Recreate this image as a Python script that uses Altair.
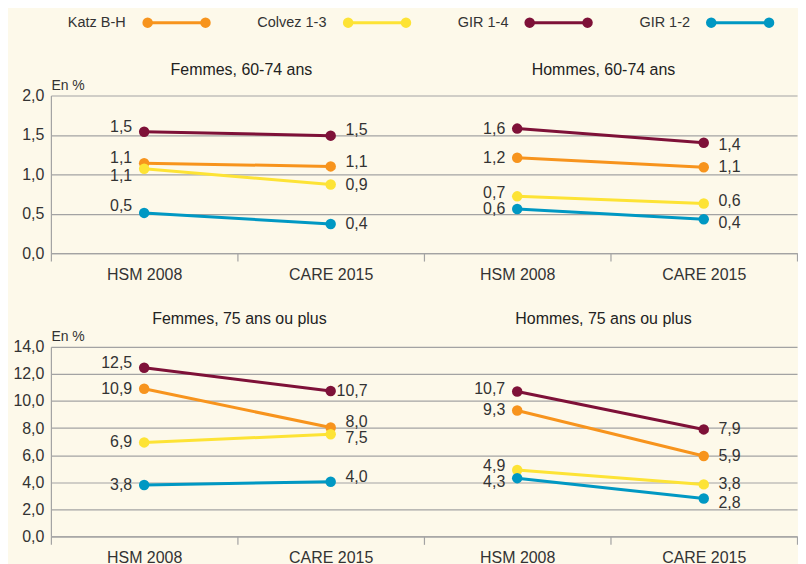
import altair as alt
import pandas as pd

# ---------------- data ----------------
series = ["Katz B-H", "Colvez 1-3", "GIR 1-4", "GIR 1-2"]
colors = ["#F7941D", "#FDE335", "#7E1138", "#0098C3"]
periods = ["HSM 2008", "CARE 2015"]
panels = ["Femmes", "Hommes"]

# values in % : [HSM 2008, CARE 2015]
femmes_60_74 = {"Katz B-H": [1.14, 1.10], "Colvez 1-3": [1.07, 0.87],
                "GIR 1-4": [1.54, 1.49], "GIR 1-2": [0.51, 0.37]}
hommes_60_74 = {"Katz B-H": [1.21, 1.09], "Colvez 1-3": [0.72, 0.63],
                "GIR 1-4": [1.58, 1.40], "GIR 1-2": [0.56, 0.43]}
femmes_75 = {"Katz B-H": [10.9, 8.04], "Colvez 1-3": [6.94, 7.54],
             "GIR 1-4": [12.46, 10.74], "GIR 1-2": [3.8, 4.04]}
hommes_75 = {"Katz B-H": [9.3, 5.94], "Colvez 1-3": [4.9, 3.84],
             "GIR 1-4": [10.7, 7.9], "GIR 1-2": [4.3, 2.8]}

titles_60_74 = ["Femmes, 60-74 ans", "Hommes, 60-74 ans"]
titles_75 = ["Femmes, 75 ans ou plus", "Hommes, 75 ans ou plus"]
ticks_60_74 = [0, 0.5, 1.0, 1.5, 2.0]
ticks_75 = [0, 2, 4, 6, 8, 10, 12, 14]
y_title = "En %"

# ---------------- style ----------------
FONT = "Liberation Sans, Arial, sans-serif"
BG = "#FDF9EA"
GRID = "#A3A3A3"
TXT = "#333333"
FS = 16

# label vertical nudges (px) by (panel, series, period)
NUDGE_60_74 = {
    ("Femmes", "Katz B-H", "HSM 2008"): -5, ("Femmes", "Colvez 1-3", "HSM 2008"): 7,
    ("Femmes", "GIR 1-4", "HSM 2008"): -5, ("Femmes", "GIR 1-2", "HSM 2008"): -7,
    ("Femmes", "Katz B-H", "CARE 2015"): -4, ("Femmes", "GIR 1-4", "CARE 2015"): -6,
    ("Hommes", "Colvez 1-3", "HSM 2008"): -3, ("Hommes", "GIR 1-4", "CARE 2015"): 2,
    ("Hommes", "GIR 1-2", "CARE 2015"): 4, ("Hommes", "Colvez 1-3", "CARE 2015"): -2,
}
NUDGE_75 = {
    ("Femmes", "GIR 1-4", "HSM 2008"): -5, ("Femmes", "Katz B-H", "CARE 2015"): -6,
    ("Femmes", "Colvez 1-3", "CARE 2015"): 4, ("Femmes", "GIR 1-2", "CARE 2015"): -5,
    ("Hommes", "GIR 1-4", "HSM 2008"): -3, ("Hommes", "Colvez 1-3", "HSM 2008"): -4,
    ("Hommes", "GIR 1-2", "HSM 2008"): 4, ("Hommes", "GIR 1-2", "CARE 2015"): 5,
}

keys = [f"{p}|{per}" for p in panels for per in periods]
LABEL_EXPR = "replace(format(datum.value, '.1f'), '.', ',')"


def make_row(data_by_panel, titles, ticks, nudges, height, title_y, title_dx):
    recs = []
    for p, d in zip(panels, data_by_panel):
        for s in series:
            for k, per in enumerate(periods):
                recs.append({"panel": p, "series": s, "period": per,
                             "key": f"{p}|{per}", "value": d[s][k],
                             "nudge": nudges.get((p, s, per), 0)})
    df = pd.DataFrame(recs)

    xenc = alt.X("key:N", sort=keys,
                 scale=alt.Scale(domain=keys, paddingInner=0, paddingOuter=0),
                 axis=alt.Axis(title=None, labelExpr="split(datum.label, '|')[1]",
                               labelAngle=0, tickBand="extent", ticks=True, tickSize=8,
                               labelPadding=5, labelFontSize=FS, grid=False))
    yenc = alt.Y("value:Q",
                 scale=alt.Scale(domain=[ticks[0], ticks[-1]], nice=False),
                 axis=alt.Axis(values=ticks, tickCount=50, grid=True, ticks=False,
                               labelPadding=7, labelOverlap=False, labelExpr=LABEL_EXPR,
                               labelFontSize=FS,
                               title=y_title, titleAngle=0, titleAlign="left",
                               titleBaseline="alphabetic", titleX=0, titleY=-6,
                               titleFontSize=14, titleFontWeight="normal"))
    color = alt.Color("series:N", scale=alt.Scale(domain=series, range=colors), legend=None)

    base = alt.Chart(df).encode(x=xenc, y=yenc, color=color)
    lines = base.mark_line(strokeWidth=3).encode(detail="panel:N")
    points = base.mark_circle(size=110, opacity=1)

    layers = [lines, points]
    for per, dx in [("HSM 2008", -12), ("CARE 2015", 37)]:
        sub = df[df.period == per]
        for n in sorted(set(sub.nudge)):
            layers.append(
                alt.Chart(df)
                .transform_filter(f"datum.period == '{per}' && datum.nudge == {n}")
                .transform_calculate(lab=LABEL_EXPR)
                .mark_text(align="right", baseline="middle", dx=dx, dy=int(n),
                           fontSize=FS, color=TXT)
                .encode(x="key:N", y="value:Q", text="lab:N")
            )

    tdf = pd.DataFrame({"key": [f"{p}|HSM 2008" for p in panels], "title": titles,
                        "panel": panels})
    for p, dx in zip(panels, title_dx):
        layers.append(
            alt.Chart(tdf)
            .transform_filter(f"datum.panel == '{p}'")
            .mark_text(baseline="middle", align="center", fontSize=FS, color="#222222", dx=dx)
            .encode(x=alt.X("key:N", bandPosition=1), y=alt.value(title_y), text="title:N")
        )
    return alt.layer(*layers).properties(width=748, height=height)


def legend_pair(s, c):
    d = pd.DataFrame({"series": [s]})
    b = alt.Chart(d)
    txt = b.mark_text(align="left", baseline="middle", fontSize=14.5, color=TXT).encode(
        x=alt.value(17), y=alt.value(6), text="series:N").properties(width=1, height=12)
    rule = b.mark_rule(color=c, strokeWidth=3).encode(x=alt.value(0), x2=alt.value(58), y=alt.value(6))
    p1 = b.mark_circle(color=c, size=110, opacity=1).encode(x=alt.value(0), y=alt.value(6))
    p2 = b.mark_circle(color=c, size=110, opacity=1).encode(x=alt.value(58), y=alt.value(6))
    sym = alt.layer(rule, p1, p2).properties(width=58, height=12)
    return alt.hconcat(txt, sym, spacing=15)


legend_row = alt.hconcat(*[legend_pair(s, c) for s, c in zip(series, colors)], spacing=29)

row1 = make_row([femmes_60_74, hommes_60_74], titles_60_74, ticks_60_74, NUDGE_60_74,
                158, -26, [4, -7])
row2 = make_row([femmes_75, hommes_75], titles_75, ticks_75, NUDGE_75,
                190, -28, [2, -7])

chart = (
    alt.vconcat(legend_row, alt.vconcat(row1, row2, spacing=29), spacing=32)
    .properties(padding={"left": 4, "top": 6, "right": 0, "bottom": 0}, background=BG)
    .configure(font=FONT)
    .configure_view(stroke=None)
    .configure_axis(labelColor=TXT, titleColor=TXT, gridColor=GRID, domainColor=GRID,
                    tickColor=GRID, labelFont=FONT, titleFont=FONT, gridWidth=1.2,
                    domainWidth=1.2, tickWidth=1.2)
    .configure_text(font=FONT)
)

chart.save("out.html", embed_options={"renderer": "svg", "actions": False})
